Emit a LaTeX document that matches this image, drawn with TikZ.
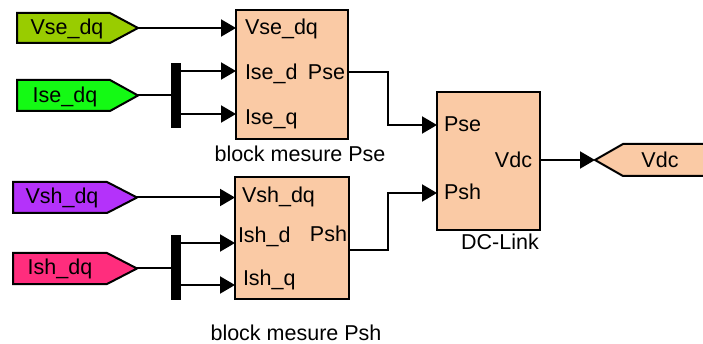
\documentclass[tikz,border=0pt]{standalone}
\usepackage{fontspec}
\setmainfont{Liberation Sans}
\usetikzlibrary{arrows.meta}
\definecolor{vsecol}{RGB}{153,204,0}
\definecolor{isecol}{RGB}{20,250,20}
\definecolor{vshcol}{RGB}{180,50,250}
\definecolor{ishcol}{RGB}{255,45,125}
\definecolor{blockcol}{RGB}{250,202,165}
\begin{document}
\begin{tikzpicture}[x=1pt,y=-1pt,
 blockbox/.style={draw,line width=2.2pt,fill=blockcol,inner sep=0pt,outer sep=0pt},
 busbar/.style={fill=black,inner sep=0pt,outer sep=0pt,minimum width=10pt,minimum height=65pt},
 sig/.style={line width=2pt,-{Triangle[length=15pt,width=17pt]}},
 wire/.style={line width=2pt},
 tagshape/.style={draw,line width=2pt,line join=miter},
 txt/.style={font=\fontsize{21.5}{24}\selectfont,inner sep=0pt,outer sep=0pt},
]
\useasboundingbox (0,0) rectangle (703,344);
\clip (0,0) rectangle (703,344);

% ---- source tags ----
\draw[tagshape,fill=vsecol] (17,13) -- (110,13) -- (138,28) -- (110,43) -- (17,43) -- cycle;
\coordinate (vsetip) at (138,28);
\node[txt,anchor=base] (vsetxt) at (67,35) {Vse\_dq};

\draw[tagshape,fill=isecol] (17,80) -- (110,80) -- (138,95.5) -- (110,111) -- (17,111) -- cycle;
\coordinate (isetip) at (138,95.5);
\node[txt,anchor=base] (isetxt) at (65,102.5) {Ise\_dq};

\draw[tagshape,fill=vshcol] (13,182) -- (107,182) -- (137,197.5) -- (107,213) -- (13,213) -- cycle;
\coordinate (vshtip) at (137,197.5);
\node[txt,anchor=base] (vshtxt) at (62,204) {Vsh\_dq};

\draw[tagshape,fill=ishcol] (13,253) -- (107,253) -- (137,268.5) -- (107,284) -- (13,284) -- cycle;
\coordinate (ishtip) at (137,268.5);
\node[txt,anchor=base] (ishtxt) at (60,275) {Ish\_dq};

% ---- goto tag ----
\draw[tagshape,fill=blockcol] (595,160) -- (623,144) -- (712,144) -- (712,176) -- (623,176) -- cycle;
\coordinate (vdctip) at (595,160);
\node[txt,anchor=base] (vdctxt) at (660,167.5) {Vdc};

% ---- bus bars ----
\node[busbar] (bar1) at (176,95.5) {};
\node[busbar] (bar2) at (176,267.5) {};

% ---- blocks ----
\node[blockbox,minimum width=112pt,minimum height=129pt] (pse) at (292,74.5) {};
\node[txt,anchor=base west] (pse-a) at (245,35) {Vse\_dq};
\node[txt,anchor=base west] (pse-b) at (245,80) {Ise\_d};
\node[txt,anchor=base west] (pse-c) at (245,125) {Ise\_q};
\node[txt,anchor=base east] (pse-o) at (345,80) {Pse};
\node[txt,anchor=base] (pse-lab) at (300,162) {block mesure Pse};

\node[blockbox,minimum width=114pt,minimum height=122pt] (psh) at (292,238) {};
\node[txt,anchor=base west] (psh-a) at (242,203) {Vsh\_dq};
\node[txt,anchor=base west] (psh-b) at (238,243) {Ish\_d};
\node[txt,anchor=base west] (psh-c) at (243,285) {Ish\_q};
\node[txt,anchor=base east] (psh-o) at (347,242) {Psh};
\node[txt,anchor=base] (psh-lab) at (296,340) {block mesure Psh};

\node[blockbox,minimum width=103pt,minimum height=138pt] (dc) at (488.5,161) {};
\node[txt,anchor=base west] (dc-a) at (444,132) {Pse};
\node[txt,anchor=base west] (dc-b) at (444,200) {Psh};
\node[txt,anchor=base east] (dc-o) at (532,168) {Vdc};
\node[txt,anchor=base] (dc-lab) at (500,250) {DC-Link};

% ---- connectors ----
\draw[sig] (vsetip) -- (vsetip -| pse.west);
\draw[wire] (isetip) -- (isetip -| bar1.west);
\draw[sig] (bar1.east |- 0,71) -- (pse.west |- 0,71);
\draw[sig] (bar1.east |- 0,114) -- (pse.west |- 0,114);

\draw[sig] (vshtip) -- (vshtip -| psh.west);
\draw[wire] (ishtip) -- (ishtip -| bar2.west);
\draw[sig] (bar2.east |- 0,243) -- (psh.west |- 0,243);
\draw[sig] (bar2.east |- 0,285) -- (psh.west |- 0,285);

\draw[sig] (pse.east |- 0,72) -- (388,72) -- (388,125) -- (dc.west |- 0,125);
\draw[sig] (psh.east |- 0,250) -- (388,250) -- (388,193) -- (dc.west |- 0,193);
\draw[sig] (dc.east |- 0,160) -- (vdctip);
\end{tikzpicture}
\end{document}
